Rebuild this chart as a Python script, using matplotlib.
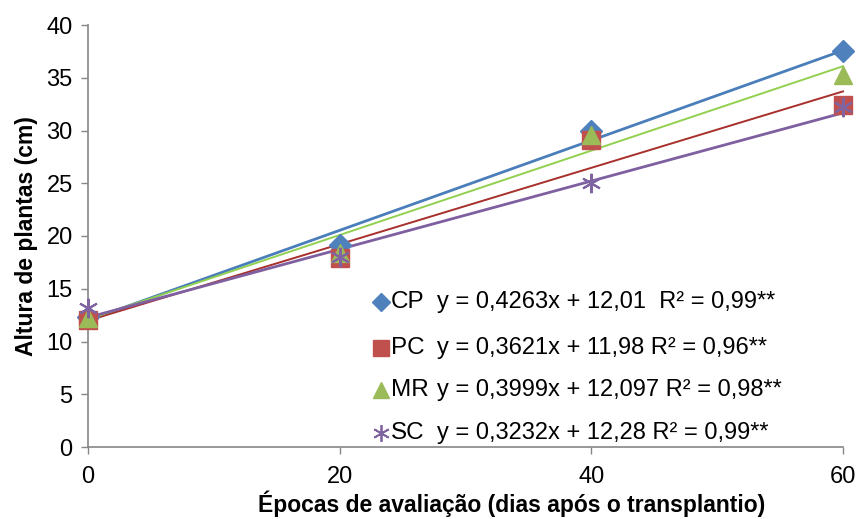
import numpy as np
import matplotlib.pyplot as plt

plt.rcParams['font.family'] = ['Liberation Sans', 'DejaVu Sans']

# dias apos o transplantio
epocas = [0, 20, 40, 60]

# altura de plantas (cm)
cp = [12.3, 19.1, 30.0, 37.5]
pc = [12.0, 17.9, 29.1, 32.4]
mr = [12.2, 18.4, 29.6, 35.3]
sc = [13.2, 18.0, 25.0, 32.2]

tratamentos = ['CP', 'PC', 'MR', 'SC']
inclinacoes = [0.4263, 0.3621, 0.3999, 0.3232]
interceptos = [12.01, 11.98, 12.097, 12.28]
equacoes = ['y = 0,4263x + 12,01  R² = 0,99**',
            'y = 0,3621x + 11,98 R² = 0,96**',
            'y = 0,3999x + 12,097 R² = 0,98**',
            'y = 0,3232x + 12,28 R² = 0,99**']

cores = ['#4F81BD', '#C0504D', '#9BBB59', '#8064A2']
cores_linha = ['#4A7EBB', '#A8302C', '#92D050', '#7E5FA0']
marcadores = ['D', 's', '^', '*']
tamanhos = [11, 13, 13, 14]

fig = plt.figure(figsize=(8.57, 5.19), dpi=100)
ax = fig.add_axes([88 / 857, 72 / 519, 755 / 857, 422 / 519])

dados = [cp, pc, mr, sc]
x_lin = np.array([epocas[0], epocas[-1]])
for i, nome in enumerate(tratamentos):
    lw = 2.0 if nome in ('CP', 'SC') else 1.4
    ax.plot(x_lin, inclinacoes[i] * x_lin + interceptos[i], color=cores_linha[i], lw=lw, zorder=2)

for i, nome in enumerate(tratamentos):
    if nome == 'SC':
        ax.plot(epocas, dados[i], linestyle='none', marker=(6, 2, 0), ms=tamanhos[i], mew=1.5,
                color=cores[i], zorder=3)
    else:
        ax.plot(epocas, dados[i], linestyle='none', marker=marcadores[i], ms=tamanhos[i],
                color=cores[i], mec=cores[i], zorder=3)

# legenda com equacoes
linhas_y = [302, 348, 390, 433]
for i, nome in enumerate(tratamentos):
    yf = 1 - linhas_y[i] / 519
    if nome == 'SC':
        fig.lines.append(plt.Line2D([381 / 857], [yf], marker=(6, 2, 0), ms=12, mew=1.3,
                                    color=cores[i], transform=fig.transFigure))
    else:
        fig.lines.append(plt.Line2D([381 / 857], [yf], marker=marcadores[i], ms=tamanhos[i] - 2,
                                    color=cores[i], transform=fig.transFigure))
    fig.text(391 / 857, yf, nome, fontsize=17.5, va='center', ha='left')
    fig.text(437 / 857, yf, equacoes[i], fontsize=17, va='center', ha='left')

ax.set_xlim(0, 60)
ax.set_ylim(0, 40)
ax.set_xticks(epocas)
ax.set_yticks(range(0, 41, 5))
ax.tick_params(axis='both', labelsize=17, color='#868686', length=5, width=1)
ax.tick_params(axis='x', pad=9)
ax.tick_params(axis='y', pad=6)
for s in ['top', 'right']:
    ax.spines[s].set_visible(False)
for s in ['left', 'bottom']:
    ax.spines[s].set_color('#868686')
    ax.spines[s].set_linewidth(1.2)
ax.spines['bottom'].set_zorder(1)
for ln in ax.lines:
    ln.set_clip_on(False)

ax.set_xlabel('Épocas de avaliação (dias após o transplantio)', fontsize=16.5, fontweight='bold')
ax.xaxis.set_label_coords((512 - 88) / 755, -0.104)
ax.set_ylabel('Altura de plantas (cm)', fontsize=16.5, fontweight='bold', labelpad=6)

fig.savefig('out.png', dpi=100)
